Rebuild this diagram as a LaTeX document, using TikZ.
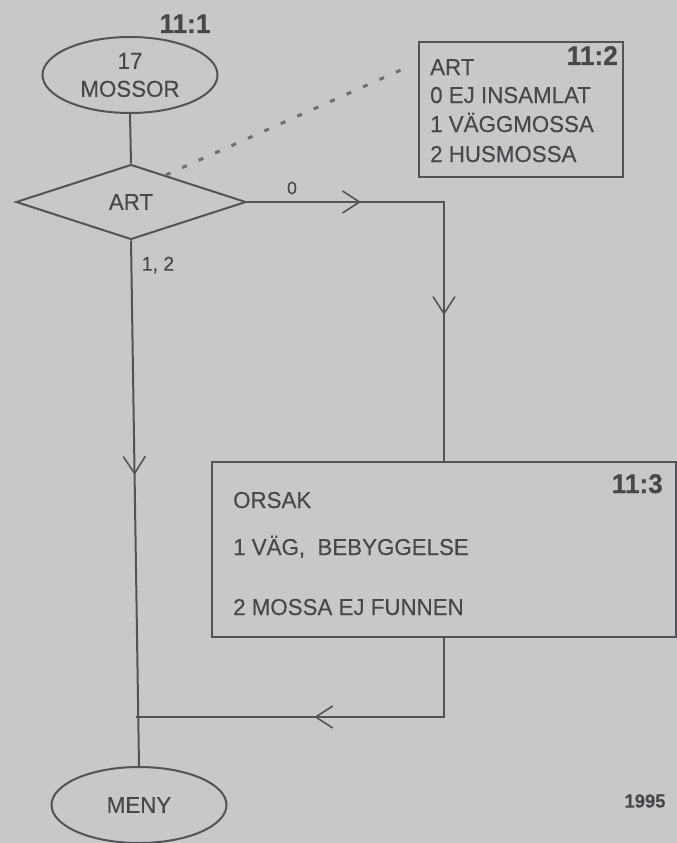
\documentclass[tikz,border=0pt]{standalone}
\usepackage{fontspec}
\setmainfont[FakeStretch=0.97,FakeBold=0.3]{Liberation Sans}
\usetikzlibrary{shapes.geometric,arrows.meta,decorations.markings,calc}
\definecolor{bgc}{RGB}{199,200,202}
\definecolor{ink}{RGB}{84,84,88}
\definecolor{txt}{RGB}{72,72,76}
\tikzset{
  line/.style={draw=ink, line width=2pt},
  lbl/.style={font=\fontsize{23}{28}\selectfont, text=txt, inner sep=0pt},
  small/.style={font=\fontsize{18}{20}\selectfont, text=txt, inner sep=0pt},
  num/.style={font=\bfseries\fontsize{27}{30}\selectfont, text=txt, inner sep=0pt},
  term/.style={ellipse, line, minimum width=175pt, minimum height=76pt, inner sep=0pt},
  decide/.style={diamond, line, minimum width=230pt, minimum height=75pt, inner sep=0pt},
  infobox/.style={rectangle, line, inner sep=0pt},
  vtip/.tip={Straight Barb[length=17pt,width=22pt,line width=1.6pt]},
}
\begin{document}
\begin{tikzpicture}[x=1pt,y=-1pt]
\fill[bgc] (0,0) rectangle (677,843);
\useasboundingbox (0,0) rectangle (677,843);

% nodes
\node[term, align=center, lbl] (mossor) at (130,75) {17\\MOSSOR};
\node[num, anchor=base] (n111) at (185,33) {11:1};
\node[decide, lbl] (art) at (131,202) {ART};
\node[term, lbl] (meny) at (139,805) {MENY};

\node[infobox, minimum width=204pt, minimum height=135pt] (box2) at (521,109.5) {};
\node[num, anchor=base east] (n112) at (618,65) {11:2};
\node[lbl, anchor=base west] (b2a) at (430,75) {ART};
\node[lbl, anchor=base west] (b2b) at (430,103) {0 EJ INSAMLAT};
\node[lbl, anchor=base west] (b2c) at (430,132) {1 VÄGGMOSSA};
\node[lbl, anchor=base west] (b2d) at (430,162) {2 HUSMOSSA};

\node[infobox, minimum width=464pt, minimum height=175pt] (box3) at (444,549.5) {};
\node[num, anchor=base east] (n113) at (663,493) {11:3};
\node[lbl, anchor=base west] (b3a) at (233,508) {ORSAK};
\node[lbl, anchor=base west] (b3b) at (233,555) {1 VÄG,\ \ BEBYGGELSE};
\node[lbl, anchor=base west] (b3c) at (233,615) {2 MOSSA EJ FUNNEN};

\node[small] (l0) at (292,188) {0};
\node[small, font=\fontsize{20}{22}\selectfont] (l12) at (158,265) {1, 2};
\node[num, font=\bfseries\fontsize{19}{22}\selectfont] (yr) at (645,801) {1995};

% connectors
\draw[line] (mossor.south) -- (art.north);

\coordinate (d1) at ($(art.north)!0.3!(art.east)$);
\coordinate (d2) at ($(box2.west)+(-16,-40)$);
\draw[draw=ink!85, line width=3pt, dash pattern=on 5pt off 13pt] (d1) -- (d2);

\draw[line, postaction={decorate}, decoration={markings,
      mark=at position 0.25 with {\arrow{vtip}},
      mark=at position 0.68 with {\arrow{vtip}}}]
  (art.east) -| (box3.north);

\coordinate (j) at (136.4,717);
\draw[line, postaction={decorate}, decoration={markings,
      mark=at position 0.446 with {\arrow{vtip}}}]
  (art.south) -- (meny.north);

\draw[line, postaction={decorate}, decoration={markings,
      mark=at position 0.54 with {\arrow{vtip}}}]
  (box3.south) |- (j);
\end{tikzpicture}
\end{document}
